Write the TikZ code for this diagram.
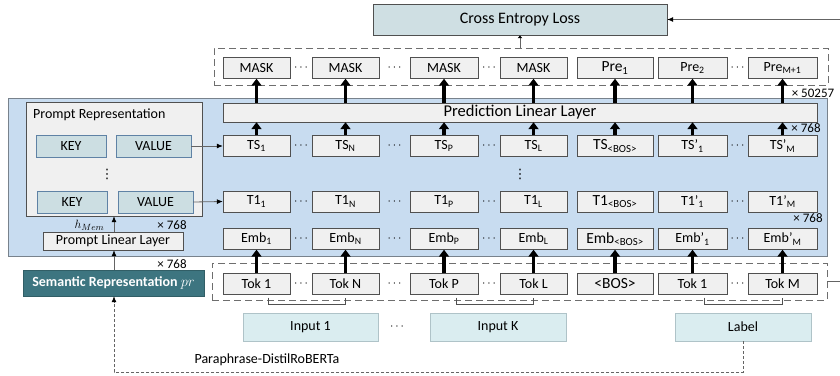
\documentclass[tikz,border=0pt]{standalone}
\usepackage{fontspec}
\setmainfont{Carlito}
\newfontfamily\symfam{DejaVu Sans}
\usetikzlibrary{positioning, arrows.meta, calc}

\definecolor{bgblue}{RGB}{200,220,240}
\definecolor{panelgray}{RGB}{120,130,140}
\definecolor{cellgray}{RGB}{240,240,240}
\definecolor{edgegray}{RGB}{80,80,80}
\definecolor{linegray}{RGB}{100,100,100}
\definecolor{dashgray}{RGB}{110,110,110}
\definecolor{lossfill}{RGB}{207,223,227}
\definecolor{kvfill}{RGB}{204,222,226}
\definecolor{kvedge}{RGB}{95,130,165}
\definecolor{infill}{RGB}{218,237,240}
\definecolor{inedge}{RGB}{175,195,200}
\definecolor{semfill}{RGB}{61,117,128}

\tikzset{
  cell/.style={draw=edgegray, fill=cellgray, inner sep=0pt, minimum height=21pt},
  kv/.style={draw=kvedge, fill=kvfill, inner sep=0pt, minimum height=22pt, font=\fontsize{14}{16}\selectfont},
  inbox/.style={draw=inedge, fill=infill, inner sep=0pt, minimum width=136pt, minimum height=28pt, font=\fontsize{14}{16}\selectfont},
  group/.style={draw=dashgray, dash pattern=on 7pt off 4pt, inner sep=0pt},
  fat/.style={line width=3.5pt, -{Triangle[width=10pt, length=7pt]}},
  link/.style={draw=linegray, line width=0.8pt, -{Latex[length=6pt, width=5pt, color=black]}},
  note/.style={font=\fontsize{13}{15}\selectfont, inner sep=0pt},
  ellip/.style={font=\fontsize{12}{14}\selectfont, inner sep=0pt},
  vellip/.style={font=\symfam\fontsize{13}{15}\selectfont, inner sep=0pt}
}

\begin{document}
\begin{tikzpicture}[x=1pt, y=-1pt]
  \useasboundingbox (0,0) rectangle (840,375);

  % encoder panel
  \fill[bgblue, draw=panelgray] (8,98) rectangle (827,256);

  \node[cell, fill=lossfill, minimum width=294pt, minimum height=31pt, font=\fontsize{16}{18}\selectfont] (loss) at (520,19.5) {Cross Entropy Loss};
  \node[group, minimum width=614pt, minimum height=37pt] (outgrp) at (521,66.5) {};
  \node[group, minimum width=615pt, minimum height=37pt] (tokgrp) at (519.5,281.5) {};
  \node[cell, minimum width=594pt, minimum height=19pt, font=\fontsize{16.5}{18}\selectfont] (pll) at (520,112.5) {Prediction Linear Layer};

  % token columns
  \foreach \c/\x/\w/\f/\ma/\ts/\tr/\em/\tk in {
      1/256.5/67/14/MASK/{TS\textsubscript{1}}/{T1\textsubscript{1}}/{Emb\textsubscript{1}}/{Tok 1},
      2/345.5/67/14/MASK/{TS\textsubscript{N}}/{T1\textsubscript{N}}/{Emb\textsubscript{N}}/{Tok N},
      3/444/68/14/MASK/{TS\textsubscript{P}}/{T1\textsubscript{P}}/{Emb\textsubscript{P}}/{Tok P},
      4/533.5/67/14/MASK/{TS\textsubscript{L}}/{T1\textsubscript{L}}/{Emb\textsubscript{L}}/{Tok L},
      5/615/76/15.5/{Pre\textsubscript{1}}/{TS\textsubscript{<BOS>}}/{T1\textsubscript{<BOS>}}/{Emb\textsubscript{<BOS>}}/{<BOS>},
      6/692.5/69/14/{Pre\textsubscript{2}}/{TS’\textsubscript{1}}/{T1’\textsubscript{1}}/{Emb’\textsubscript{1}}/{Tok 1},
      7/782.5/69/14/{Pre\textsubscript{M+1}}/{TS’\textsubscript{M}}/{T1’\textsubscript{M}}/{Emb’\textsubscript{M}}/{Tok M}}{
    \tikzset{colcell/.style={cell, minimum width=\w pt, font=\fontsize{\f}{18}\selectfont}}
    \node[colcell] (ma\c) at (\x,68) {\ma};
    \node[colcell] (ts\c) at (\x,146) {\ts};
    \node[colcell] (tr\c) at (\x,201.5) {\tr};
    \node[colcell] (em\c) at (\x,239) {\em};
    \node[colcell] (tk\c) at (\x,284) {\tk};
    \draw[fat] (pll.north -| ma\c.south) -- (ma\c.south);
    \draw[fat] (ts\c.north) -- (ts\c.north |- pll.south);
    \draw[fat] (tk\c.north) -- (em\c.south);
  }

  \foreach \x [count=\i] in {301,394.5,489,737.5}
    \foreach \y [count=\j] in {68,146,201.5,239,284}
      \node[ellip] (dot\i\j) at (\x,\y) {$\cdots$};
  \node[vellip] (vdot) at (520,174) {⋮};

  % brackets under the tokens
  \foreach \a/\b in {tk1/tk2, tk3/tk4, tk6/tk7}
    \draw[edgegray, line width=0.8pt] ([xshift=12pt]\a.south) ++(0,3) -- ++(0,7) -| ([yshift=-3pt]\b.south);

  % prompt side
  \node[cell, minimum width=176pt, minimum height=114pt] (prompt) at (114,159) {};
  \node[anchor=west, inner sep=0pt, font=\fontsize{14}{16}\selectfont] (ptitle) at (33,115) {Prompt Representation};
  \node[kv, minimum width=70pt] (key1) at (71,146) {KEY};
  \node[kv, minimum width=75pt] (val1) at (153.5,146) {VALUE};
  \node[vellip] (pdot) at (107,174) {⋮};
  \node[kv, minimum width=70pt] (key2) at (72,202) {KEY};
  \node[kv, minimum width=75pt] (val2) at (155.5,202) {VALUE};
  \node[cell, minimum width=140pt, minimum height=18pt, font=\fontsize{14}{16}\selectfont] (plin) at (113,241) {Prompt Linear Layer};
  \node[draw=semfill!80!black, fill=semfill, text=white, inner sep=0pt, minimum width=181pt, minimum height=26pt, font=\bfseries\fontsize{14}{16}\selectfont] (sem) at (113.5,283) {Semantic Representation $pr$};
  \node[note] (hmem) at (89.5,225) {$h_{Mem}$};
  \node[note] (dimp) at (172,225) {× 768};
  \node[note] (dims) at (172,264) {× 768};

  \draw[link] (val1.east) -- (ts1.west);
  \draw[link] (val2.east) -- (tr1.west);
  \draw[link] (plin.north -| 114,0) -- (prompt.south -| 114,0);
  \draw[link] (sem.north -| 114,0) -- (plin.south -| 114,0);

  % inputs
  \node[inbox, minimum width=135pt] (in1) at (310.5,327) {Input 1};
  \node[ellip] (indot) at (397,327) {$\cdots$};
  \node[inbox] (inK) at (498,327) {Input K};
  \node[inbox] (lab) at (743,327) {Label};

  \draw[link, dash pattern=on 3pt off 2pt] (lab.south) -- ++(0,31) -| (sem.south -| 114,0);
  \node[inner sep=0pt, font=\fontsize{14}{16}\selectfont] (encname) at (267,360) {Paraphrase-DistilRoBERTa};

  % loss connections
  \draw[link, -{Latex[length=3pt, width=5pt, color=black]}] (outgrp.north -| loss.south) -- (loss.south);
  \draw[link] (tokgrp.east) -- ++(18,0) |- (loss.east);

  \node[note] (dimo) at (813,93) {× 50257};
  \node[note] (dimt) at (806,128) {× 768};
  \node[note] (dime) at (808,218) {× 768};
\end{tikzpicture}
\end{document}
